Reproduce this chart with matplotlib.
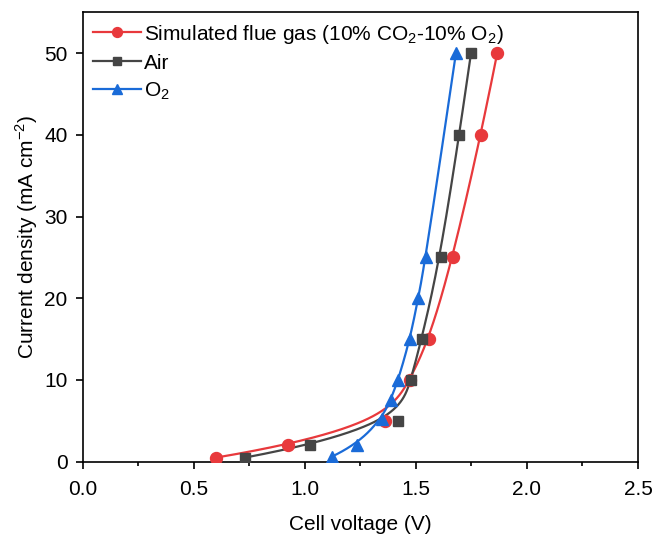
import numpy as np
import matplotlib
matplotlib.use("Agg")
import matplotlib.pyplot as plt
from matplotlib.ticker import MultipleLocator

plt.rcParams['font.family'] = ['Liberation Sans', 'DejaVu Sans']
plt.rcParams['mathtext.fontset'] = 'custom'
plt.rcParams['mathtext.rm'] = 'Liberation Sans'

# Data (cell voltage in V, current density in mA cm^-2)
flue_v = [0.60, 0.925, 1.36, 1.473, 1.559, 1.668, 1.793, 1.866]
flue_j = [0.5, 2, 5, 10, 15, 25, 40, 50]
air_v = [0.73, 1.022, 1.417, 1.477, 1.525, 1.611, 1.695, 1.748]
air_j = [0.5, 2, 5, 10, 15, 25, 40, 50]
o2_v = [1.12, 1.236, 1.345, 1.386, 1.42, 1.473, 1.51, 1.545, 1.68]
o2_j = [0.6, 2.1, 5.2, 7.6, 10, 15, 20, 25, 50]

labels = ['Simulated flue gas (10% CO$_2$-10% O$_2$)', 'Air', 'O$_2$']
colors = ['#E8393C', '#454545', '#1A6BD8']
markers = ['o', 's', '^']
msizes = [8.6, 6.6, 8.6]


def bspline(px, py, k=3, num=400):
    """Clamped uniform B-spline using the data points as control points."""
    P = np.column_stack([px, py]).astype(float)
    n = len(P)
    inner = np.arange(1, n - k)
    t = np.concatenate([np.zeros(k + 1), inner, np.full(k + 1, n - k)]).astype(float)
    u = np.linspace(0, n - k, num)
    u[-1] -= 1e-9
    # Cox-de Boor recursion
    N = np.zeros((num, len(t) - 1))
    for i in range(len(t) - 1):
        N[:, i] = (u >= t[i]) & (u < t[i + 1])
    for d in range(1, k + 1):
        Nn = np.zeros((num, len(t) - 1 - d))
        for i in range(len(t) - 1 - d):
            a = np.zeros(num); b = np.zeros(num)
            if t[i + d] > t[i]:
                a = (u - t[i]) / (t[i + d] - t[i]) * N[:, i]
            if t[i + d + 1] > t[i + 1]:
                b = (t[i + d + 1] - u) / (t[i + d + 1] - t[i + 1]) * N[:, i + 1]
            Nn[:, i] = a + b
        N = Nn
    C = N @ P
    return C[:, 0], C[:, 1]


fig = plt.figure(figsize=(6.57, 5.38), dpi=100)
ax = fig.add_axes([0.1263, 0.1419, 0.8447, 0.8352])

series = [(flue_v, flue_j), (air_v, air_j), (o2_v, o2_j)]
for (v, j), lab, c, m, ms in zip(series, labels, colors, markers, msizes):
    cx, cy = bspline(v, j)
    ax.plot(cx, cy, color=c, lw=1.6, zorder=2)
    ax.plot(v, j, linestyle='none', marker=m, ms=ms, color=c, zorder=3)
    ax.plot([], [], color=c, lw=1.6, marker=m, ms=ms - 1.5, label=lab)

ax.set_xlim(0, 2.5)
ax.set_ylim(0, 55)
ax.xaxis.set_minor_locator(MultipleLocator(0.25))
ax.yaxis.set_major_locator(MultipleLocator(10))
ax.tick_params(axis='both', which='major', direction='out', length=5, width=1.2,
               labelsize=15)
ax.tick_params(axis='x', which='major', pad=8)
ax.tick_params(axis='y', which='major', pad=6)
ax.tick_params(axis='x', which='minor', direction='out', length=3, width=1.2)
ax.set_xticks([0, 0.5, 1.0, 1.5, 2.0, 2.5])
ax.set_xticklabels(['0.0', '0.5', '1.0', '1.5', '2.0', '2.5'])
for s in ax.spines.values():
    s.set_linewidth(1.2)

ax.set_xlabel('Cell voltage (V)', fontsize=15, labelpad=12)
ax.set_ylabel('Current density (mA cm$^{-2}$)', fontsize=15, labelpad=3)

ax.legend(loc='upper left', frameon=False, fontsize=15, handlelength=2.3,
          borderaxespad=0.25, borderpad=0.25, labelspacing=0.38, handletextpad=0.15)

fig.savefig('out.png', dpi=100)
